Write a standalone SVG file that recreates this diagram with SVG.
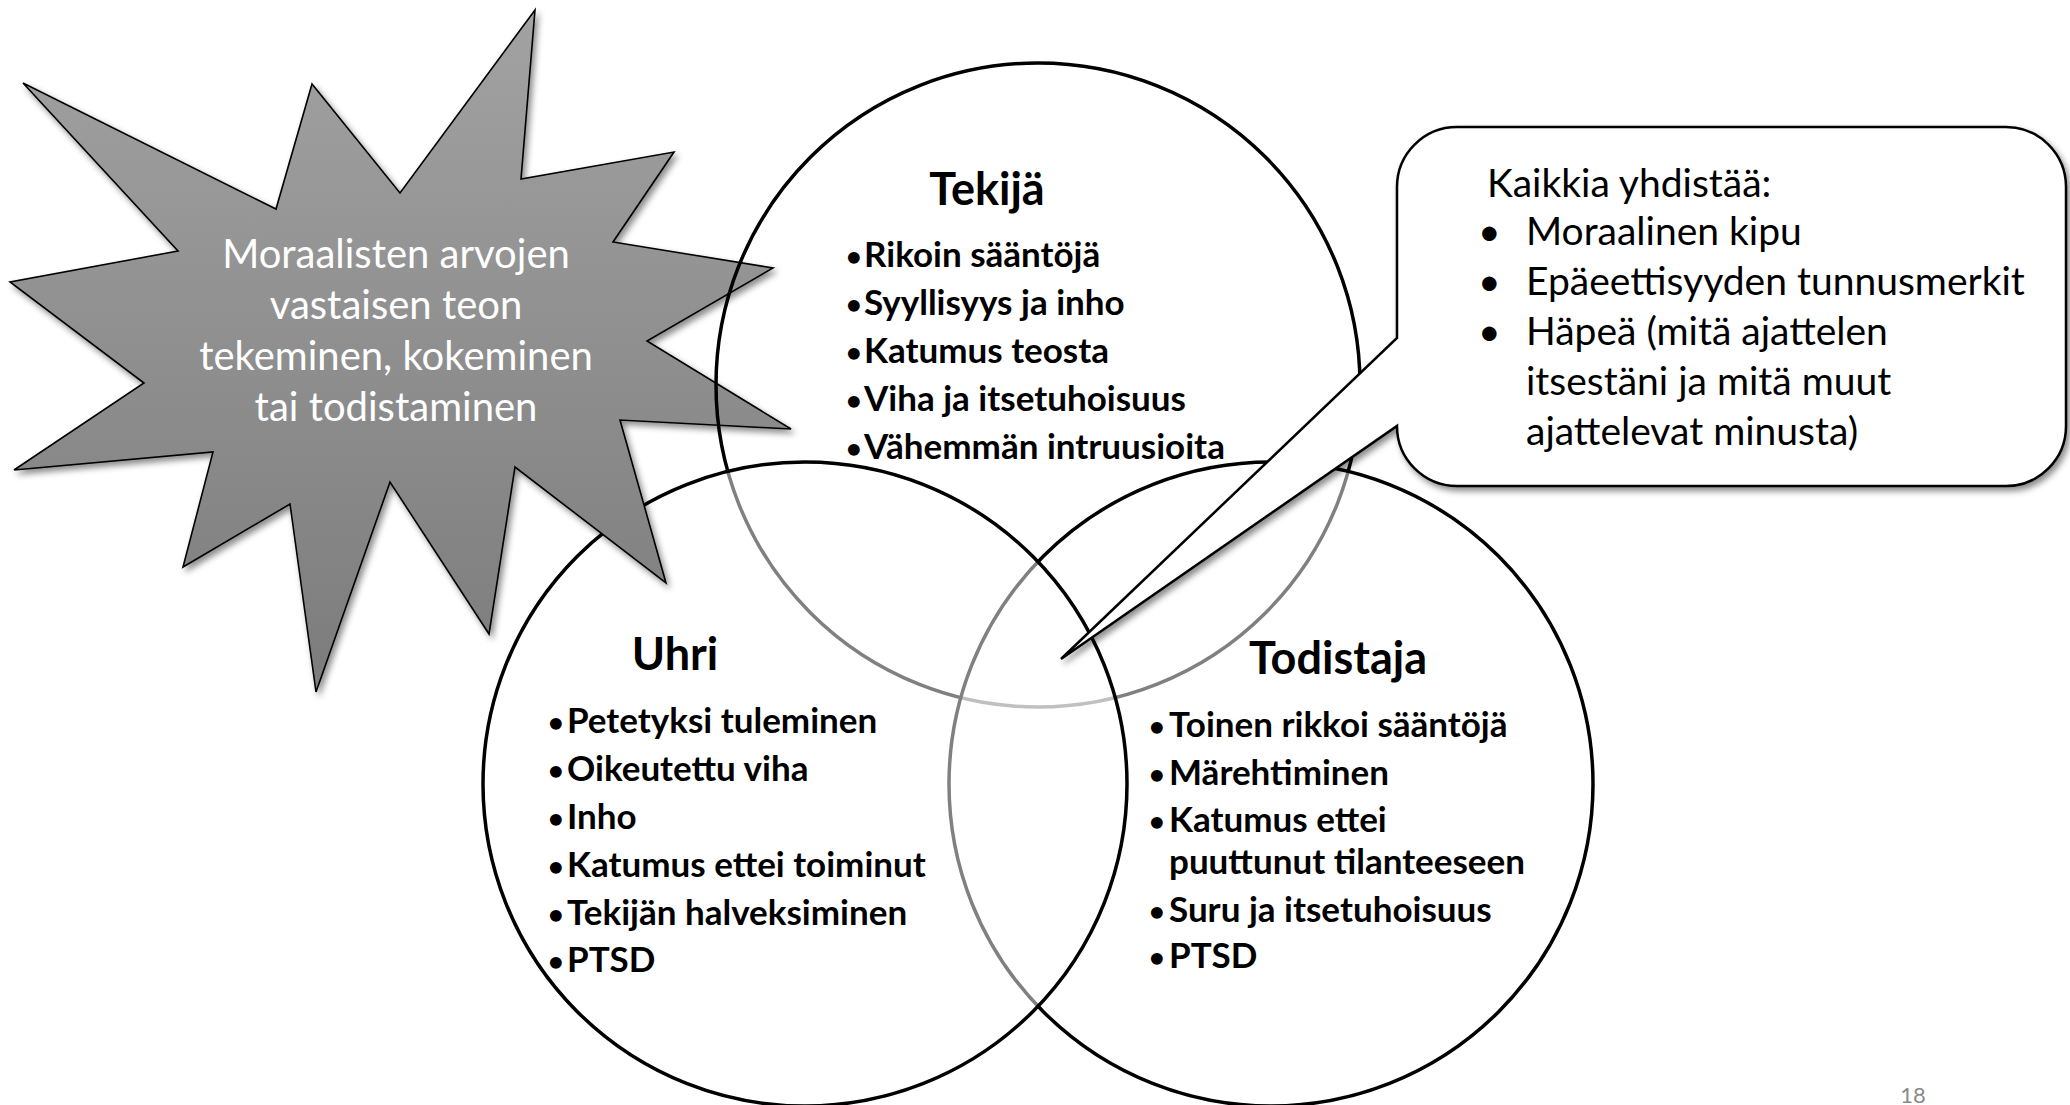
<svg xmlns="http://www.w3.org/2000/svg" width="2070" height="1105" viewBox="0 0 2070 1105">
<style>
.circ{stroke:#000;stroke-width:3.5}
.veil{fill:#fff;fill-opacity:0.5}
.title{font-family:Lato,"Open Sans",sans-serif;font-weight:bold;font-size:45px;fill:#000}
.item{font-family:Lato,"Open Sans",sans-serif;font-weight:bold;font-size:35px;fill:#000}
.bul{font-family:Lato,"Open Sans",sans-serif;font-weight:bold;font-size:27px;fill:#000}
.star-t{font-family:Lato,"Open Sans",sans-serif;font-size:40px;fill:#fff;text-anchor:middle}
.call-t{font-family:Lato,"Open Sans",sans-serif;font-size:39px;fill:#000}
.pg{font-family:Lato,"Open Sans",sans-serif;font-size:22px;fill:#8a8a8a;text-anchor:middle}
</style>
<defs>
<linearGradient id="starGrad" x1="0" y1="0" x2="0" y2="1">
<stop offset="0" stop-color="#a2a2a2"/>
<stop offset="1" stop-color="#7c7c7c"/>
</linearGradient>
<filter id="shadow" x="-10%" y="-10%" width="130%" height="130%">
<feDropShadow dx="3" dy="4" stdDeviation="3" flood-color="#000" flood-opacity="0.45"/>
</filter>
<clipPath id="starClip">
<polygon points="535,10 521,179 674,152 613,242 773,268 647,341 791,429 620,420 666,583 515,467 489,634 390,482 316,692 290,504 183,567 213,452 14,470 144,383 10,282 178,251 23,83 276,209 312,84 400,193"/>
</clipPath>
</defs>

<g id="circles">
<circle id="tekija-circle" class="circ" cx="1038" cy="385" r="322" fill="none"/>
<circle id="todistaja-circle" class="circ veil" cx="1271" cy="784" r="322"/>
<circle id="uhri-circle" class="circ veil" cx="805" cy="784" r="322"/>
</g>

<g id="star">
<polygon points="535,10 521,179 674,152 613,242 773,268 647,341 791,429 620,420 666,583 515,467 489,634 390,482 316,692 290,504 183,567 213,452 14,470 144,383 10,282 178,251 23,83 276,209 312,84 400,193" fill="url(#starGrad)" stroke="#000" stroke-width="1.6" stroke-linejoin="miter" filter="url(#shadow)"/>
<circle cx="1038" cy="385" r="322" fill="none" class="circ" clip-path="url(#starClip)"/>
<text class="star-t" x="396" y="268">Moraalisten arvojen</text>
<text class="star-t" x="396" y="319">vastaisen teon</text>
<text class="star-t" x="396" y="370">tekeminen, kokeminen</text>
<text class="star-t" x="396" y="421">tai todistaminen</text>
</g>

<g id="connectors"></g>

<g id="callout">
<path d="M1457,127 H2006 A60,60 0 0 1 2066,187 V426 A60,60 0 0 1 2006,486 H1457 A60,60 0 0 1 1397,426 L1061,659 L1397,338 V187 A60,60 0 0 1 1457,127 Z" fill="#fff" stroke="#000" stroke-width="2.5" stroke-linejoin="miter" filter="url(#shadow)"/>
<text class="call-t" x="1487" y="197">Kaikkia yhdistää:</text>
<text class="call-t" x="1478" y="245">•</text>
<text class="call-t" x="1526" y="245">Moraalinen kipu</text>
<text class="call-t" x="1478" y="295">•</text>
<text class="call-t" x="1526" y="295">Epäeettisyyden tunnusmerkit</text>
<text class="call-t" x="1478" y="345">•</text>
<text class="call-t" x="1526" y="345">Häpeä (mitä ajattelen</text>
<text class="call-t" x="1526" y="395">itsestäni ja mitä muut</text>
<text class="call-t" x="1526" y="445">ajattelevat minusta)</text>
</g>

<g id="tekija">
<text class="title" x="987" y="205" text-anchor="middle">Tekijä</text>
<text class="bul" x="846" y="266">•</text><text class="item" x="864" y="267">Rikoin sääntöjä</text>
<text class="bul" x="846" y="314">•</text><text class="item" x="864" y="315">Syyllisyys ja inho</text>
<text class="bul" x="846" y="362">•</text><text class="item" x="864" y="363">Katumus teosta</text>
<text class="bul" x="846" y="410">•</text><text class="item" x="864" y="411">Viha ja itsetuhoisuus</text>
<text class="bul" x="846" y="458">•</text><text class="item" x="864" y="459">Vähemmän intruusioita</text>
</g>

<g id="uhri">
<text class="title" x="675" y="670" text-anchor="middle">Uhri</text>
<text class="bul" x="548" y="732">•</text><text class="item" x="567" y="733">Petetyksi tuleminen</text>
<text class="bul" x="548" y="780">•</text><text class="item" x="567" y="781">Oikeutettu viha</text>
<text class="bul" x="548" y="828">•</text><text class="item" x="567" y="829">Inho</text>
<text class="bul" x="548" y="876">•</text><text class="item" x="567" y="877">Katumus ettei toiminut</text>
<text class="bul" x="548" y="924">•</text><text class="item" x="567" y="925">Tekijän halveksiminen</text>
<text class="bul" x="548" y="971">•</text><text class="item" x="567" y="972">PTSD</text>
</g>

<g id="todistaja">
<text class="title" x="1338" y="674" text-anchor="middle">Todistaja</text>
<text class="bul" x="1149" y="736">•</text><text class="item" x="1169" y="737">Toinen rikkoi sääntöjä</text>
<text class="bul" x="1149" y="784">•</text><text class="item" x="1169" y="785">Märehtiminen</text>
<text class="bul" x="1149" y="831">•</text><text class="item" x="1169" y="832">Katumus ettei</text>
<text class="item" x="1169" y="874">puuttunut tilanteeseen</text>
<text class="bul" x="1149" y="921">•</text><text class="item" x="1169" y="922">Suru ja itsetuhoisuus</text>
<text class="bul" x="1149" y="967">•</text><text class="item" x="1169" y="968">PTSD</text>
</g>

<text class="pg" x="1913" y="1103">18</text>
</svg>
